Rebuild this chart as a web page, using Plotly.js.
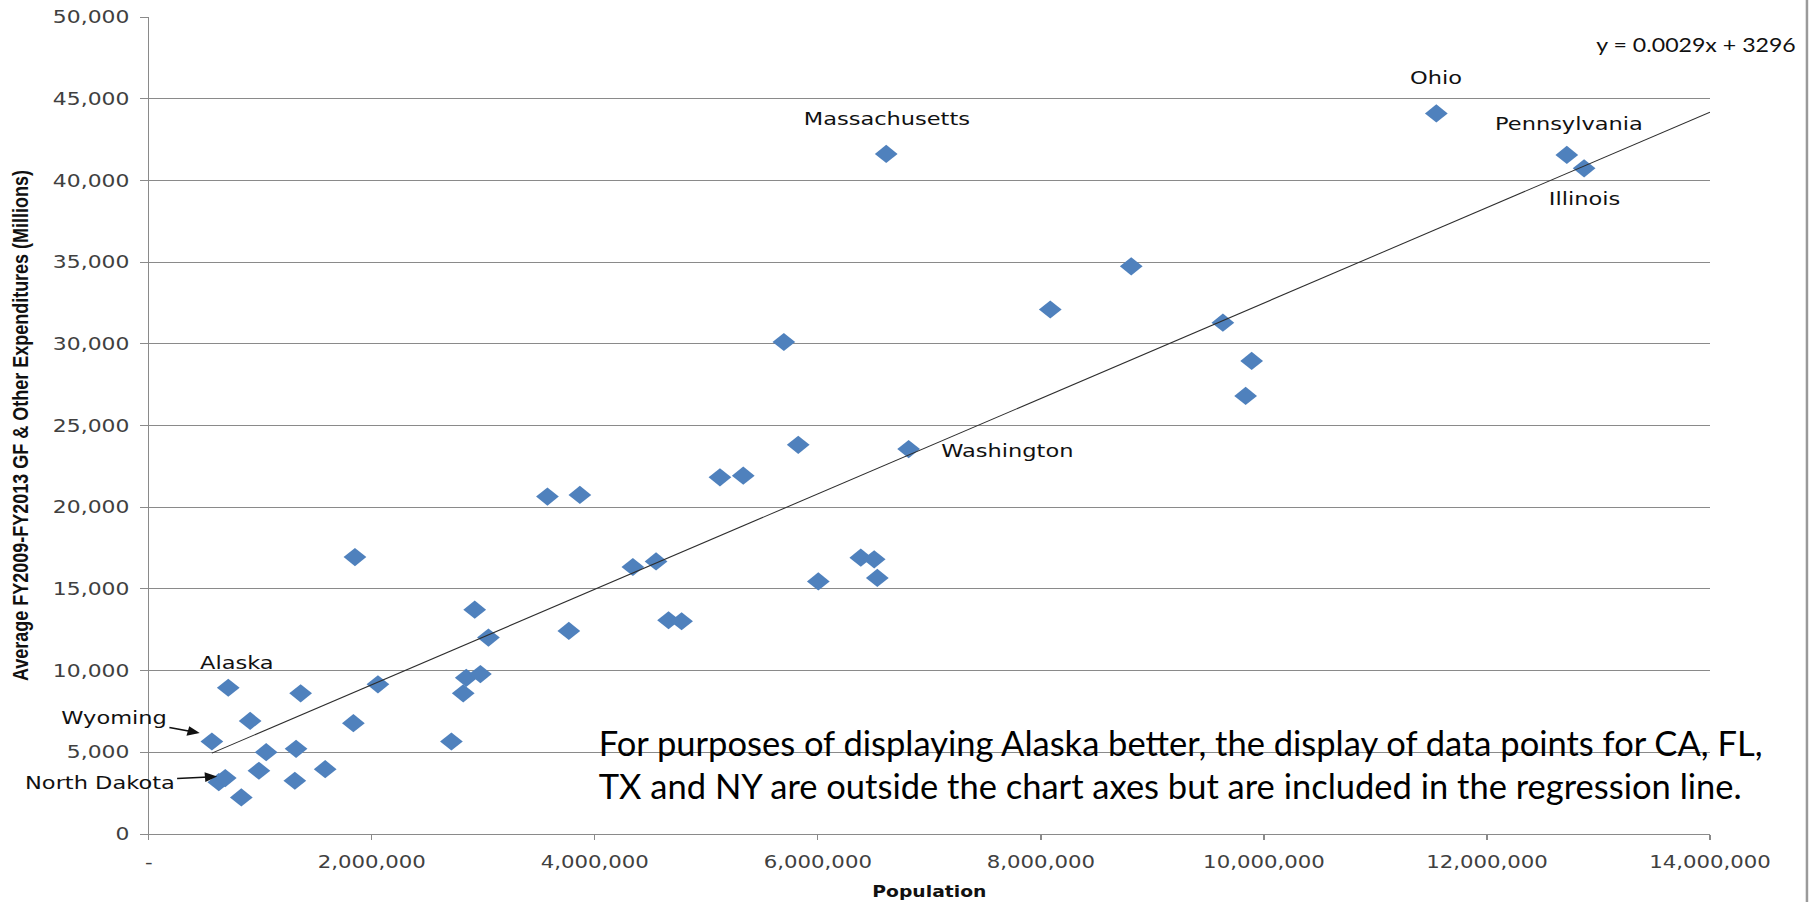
<!DOCTYPE html>
<html>
<head>
<meta charset="utf-8">
<script src="https://cdn.plot.ly/plotly-3.0.1.min.js"></script>
<style>
  html, body { margin: 0; padding: 0; background: #ffffff; overflow: hidden; }
  #wrap { width: 1814px; height: 902px; overflow: hidden; position: relative; }
  #chart { width: 1451.2px; height: 902px; transform: scaleX(1.25); transform-origin: 0 0; }
</style>
</head>
<body>
<div id="wrap"><div id="chart"></div></div>
<script>
// ---- data ----
const population = [
  566000, 713000, 628000, 686000, 830000, 909000, 988000, 1053000, 1362000, 1321000,
  1310000, 1582000, 1849000, 1835000, 2055000, 2714000, 2820000, 2847000, 2974000, 2923000,
  3046000, 3575000, 3866000, 3767000, 4341000, 4549000, 4661000, 4778000, 5122000, 5331000,
  6004000, 6385000, 6505000, 6533000, 6613000, 5695000, 8084000, 8810000, 5824000, 6814000,
  11546000, 12716000, 12871000, 9632000, 9890000, 9836000
];
const expenditures = [
  5660, 8950, 3170, 3420, 2240, 6920, 3870, 5010, 8610, 5210,
  3260, 3970, 16950, 6780, 9160, 5660, 8610, 9560, 9790, 13730,
  12020, 20650, 20750, 12430, 16340, 16680, 13080, 13020, 21830, 21930,
  15460, 16910, 16810, 15670, 41620, 30110, 32100, 34740, 23820, 23560,
  44100, 41560, 40740, 31290, 28950, 26810
];
// regression shown on the chart (includes CA, FL, TX, NY which are off-axis)
const trendCoefficients = [0.00292, 3296];
const trendEquation = 'y = 0.0029x + 3296';

const xTickValues = [0, 2000000, 4000000, 6000000, 8000000, 10000000, 12000000, 14000000];
const xTickLabels = ['-', '2,000,000', '4,000,000', '6,000,000', '8,000,000', '10,000,000', '12,000,000', '14,000,000'];
const yTickValues = [0, 5000, 10000, 15000, 20000, 25000, 30000, 35000, 40000, 45000, 50000];

const stateLabels = ['Massachusetts', 'Ohio', 'Pennsylvania', 'Illinois', 'Washington', 'Alaska'];
const arrowLabels = ['Wyoming', 'North Dakota'];
const noteLines = [
  'For purposes of displaying Alaska better, the display of data points for CA, FL,',
  'TX and NY are outside the chart axes but are included in the regression line.'
];
const xTitle = 'Population';
const yTitle = 'Average FY2009-FY2013 GF & Other Expenditures (Millions)';

// ---- layout helpers (positions / styles) ----
const X_RANGE = [0, 14000000];
const Y_RANGE = [0, 50000];

const labelPos = [
  {x: 6620000, y: 43765, xanchor: 'center'},
  {x: 11543000, y: 46308, xanchor: 'center'},
  {x: 12738000, y: 43460, xanchor: 'center'},
  {x: 12870000, y: 38912, xanchor: 'center'},
  {x: 7079000, y: 23448, xanchor: 'left'},
  {x: 795000, y: 10489, xanchor: 'center'}
];
const arrowPos = [
  {x: 457000, y: 6174, ax: -308000, ay: 7152},
  {x: 613000, y: 3521, ax: -435000, ay: 3154}
];
const notePos = [{x: 4015000, y: 5600}, {x: 4015000, y: 2980}];

const labelFont = {family: 'DejaVu Sans, Verdana, sans-serif', size: 18, color: '#111111'};

const trendX = [Math.min(...population), X_RANGE[1]];
const trendY = trendX.map(v => trendCoefficients[0] * v + trendCoefficients[1]);

const traces = [
  {
    type: 'scatter', mode: 'markers', x: population, y: expenditures,
    marker: {symbol: 'diamond', size: 14, color: '#4F81BD', line: {width: 0}},
    hoverinfo: 'x+y', showlegend: false
  },
  {
    type: 'scatter', mode: 'lines', x: trendX, y: trendY,
    line: {color: '#2e2e2e', width: 1}, hoverinfo: 'skip', showlegend: false
  }
];

const annotations = [];
stateLabels.forEach((t, i) => annotations.push({
  x: labelPos[i].x, y: labelPos[i].y, xref: 'x', yref: 'y', text: t,
  showarrow: false, xanchor: labelPos[i].xanchor, yanchor: 'middle', font: labelFont
}));
arrowLabels.forEach((t, i) => annotations.push({
  x: arrowPos[i].x, y: arrowPos[i].y, ax: arrowPos[i].ax, ay: arrowPos[i].ay,
  xref: 'x', yref: 'y', axref: 'x', ayref: 'y', text: t, showarrow: true,
  arrowhead: 2, arrowsize: 1.3, arrowwidth: 1.5, arrowcolor: '#111111', font: labelFont
}));
noteLines.forEach((t, i) => annotations.push({
  x: notePos[i].x, y: notePos[i].y, xref: 'x', yref: 'y', text: t, showarrow: false,
  xanchor: 'left', yanchor: 'middle',
  font: {family: 'Lato, Carlito, Calibri, sans-serif', size: 34.5, color: '#000000'}
}));
annotations.push({
  x: 12960000, y: 48306, xref: 'x', yref: 'y', text: trendEquation, showarrow: false,
  xanchor: 'left', yanchor: 'middle',
  font: {family: 'Lato, Carlito, Calibri, sans-serif', size: 18.5, color: '#111111'}
});

const layout = {
  width: 1451.2, height: 902,
  margin: {l: 119, r: 83, t: 17, b: 68, pad: 0},
  paper_bgcolor: '#ffffff', plot_bgcolor: '#ffffff',
  showlegend: false,
  xaxis: {
    range: X_RANGE, tickmode: 'array', tickvals: xTickValues, ticktext: xTickLabels,
    showgrid: false, zeroline: false, showline: true, linecolor: '#8a8a8a', linewidth: 1,
    ticks: 'outside', ticklen: 5, tickcolor: '#8a8a8a', tickwidth: 1, ticklabelstandoff: 8,
    tickfont: {family: 'DejaVu Sans, Verdana, sans-serif', size: 17, color: '#404040'},
    automargin: false,
    title: {text: '<b>' + xTitle + '</b>', standoff: 15,
      font: {family: 'DejaVu Sans, Verdana, sans-serif', size: 15, color: '#111111'}}
  },
  yaxis: {
    range: Y_RANGE, tickmode: 'array', tickvals: yTickValues, tickformat: ',',
    showgrid: true, gridcolor: '#8a8a8a', gridwidth: 1, zeroline: false,
    showline: true, linecolor: '#8a8a8a', linewidth: 1,
    ticks: 'outside', ticklen: 6, tickcolor: '#8a8a8a', tickwidth: 1, ticklabelstandoff: 5,
    tickfont: {family: 'DejaVu Sans, Verdana, sans-serif', size: 17.5, color: '#404040'},
    automargin: false,
    title: {text: '<b>' + yTitle + '</b>', standoff: 14,
      font: {family: 'Liberation Sans, Arial, sans-serif', size: 18, color: '#111111'}}
  },
  annotations: annotations,
  shapes: [{
    type: 'line', xref: 'paper', yref: 'paper', x0: 1.0621, x1: 1.0621, y0: -0.09, y1: 1.03,
    line: {color: '#9a9a9a', width: 2}
  }]
};

Plotly.newPlot('chart', traces, layout, {displayModeBar: false, staticPlot: true}).then(gd => {
  // the note in the reference is not stretched like the rest of the chart: undo the page stretch for it
  gd.querySelectorAll('.annotation-text').forEach(t => {
    if (noteLines.indexOf(t.textContent) >= 0) {
      t.style.transformBox = 'fill-box';
      t.style.transformOrigin = '0% 50%';
      t.style.transform = 'scaleX(0.8)';
    }
  });
});
</script>
</body>
</html>
